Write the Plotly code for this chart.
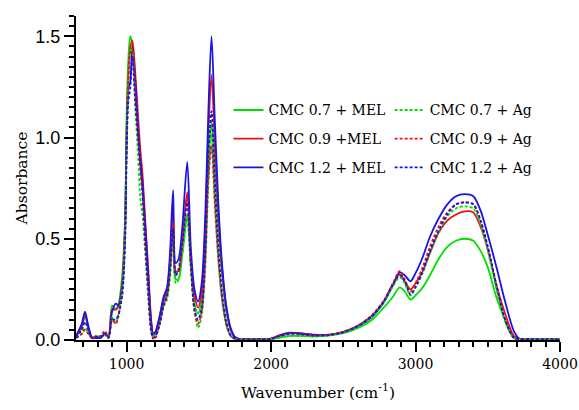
import plotly.graph_objects as go

# Wavenumber grid (cm-1)
wavenumber = [650, 690, 712, 735, 760, 790, 820, 850, 875, 900, 925, 945, 970, 990, 1000, 1012, 1025, 1040,
              1060, 1080, 1095, 1110, 1130, 1150, 1170, 1185, 1200, 1230, 1255, 1280, 1300, 1322, 1340, 1360,
              1385, 1420, 1445, 1470, 1495, 1520, 1545, 1565, 1588, 1610, 1635, 1660, 1690, 1720, 1750, 1780,
              1820, 1900, 2000, 2060, 2130, 2200, 2300, 2400, 2500, 2600, 2700, 2780, 2840, 2890, 2925, 2965,
              3000, 3050, 3100, 3160, 3220, 3280, 3340, 3400, 3450, 3500, 3560, 3620, 3680, 3720, 3800, 3900, 4000]

cmc07_mel = [.02, .06, .12, .06, .01, .01, .01, .035, .015, .17, .15, .18, .32, .62, 1.10, 1.38, 1.50, 1.46,
             1.25, 1.03, .88, .78, .55, .30, .08, .02, .03, .10, .18, .22, .33, .54, .30, .30,
             .42, .62, .36, .18, .13, .20, .45, .85, 1.08, .85, .55, .33, .14, .05, .012, .004,
             .003, .003, .005, .012, .02, .02, .018, .022, .034, .058, .10, .16, .21, .26, .24, .20,
             .22, .26, .32, .40, .46, .49, .50, .49, .44, .36, .21, .10, .015, .005, .004, .003, .003]
cmc09_mel = [.02, .07, .125, .06, .01, .01, .01, .03, .015, .15, .15, .17, .28, .58, 1.02, 1.30, 1.44, 1.48,
             1.32, 1.10, .94, .82, .58, .35, .10, .03, .04, .12, .20, .24, .38, .64, .34, .34,
             .48, .73, .40, .22, .16, .24, .55, 1.00, 1.31, .98, .62, .36, .16, .055, .014, .004,
             .003, .003, .007, .024, .036, .034, .026, .026, .04, .07, .12, .19, .27, .325, .29, .25,
             .28, .34, .43, .53, .59, .62, .635, .63, .56, .45, .27, .13, .02, .005, .004, .003, .003]
cmc12_mel = [.02, .08, .14, .07, .015, .01, .01, .03, .015, .14, .18, .17, .27, .55, .98, 1.24, 1.27, 1.45,
             1.28, 1.04, .88, .77, .55, .32, .09, .03, .04, .12, .21, .26, .42, .74, .38, .40,
             .55, .88, .45, .25, .19, .28, .62, 1.10, 1.50, 1.10, .68, .38, .17, .06, .015, .005,
             .003, .003, .007, .022, .035, .032, .025, .025, .039, .068, .115, .185, .265, .335, .32, .29,
             .33, .41, .51, .60, .67, .71, .72, .71, .64, .52, .36, .19, .045, .006, .004, .003, .003]
cmc07_ag = [.01, .03, .06, .035, .01, .02, .015, .025, .01, .11, .08, .13, .25, .55, .98, 1.30, 1.44, 1.42,
            1.15, .90, .70, .62, .42, .20, .04, .01, .02, .08, .16, .20, .30, .50, .28, .30,
            .42, .60, .34, .14, .06, .12, .35, .75, 1.02, .70, .40, .20, .07, .02, .006, .003,
            .003, .003, .005, .012, .02, .02, .018, .022, .036, .065, .115, .185, .26, .31, .28, .22,
            .26, .33, .43, .53, .61, .65, .66, .65, .57, .44, .25, .09, .01, .005, .004, .003, .003]
cmc09_ag = [.01, .03, .05, .03, .01, .02, .02, .045, .015, .10, .08, .12, .24, .52, .95, 1.27, 1.42, 1.44,
            1.22, 1.00, .84, .72, .48, .25, .05, .005, .01, .08, .17, .22, .34, .58, .32, .34,
            .47, .70, .38, .15, .08, .14, .40, .78, .96, .68, .40, .21, .08, .02, .006, .003,
            .003, .003, .006, .02, .032, .03, .023, .025, .04, .07, .125, .195, .275, .34, .30, .24,
            .28, .36, .46, .56, .63, .67, .68, .67, .59, .46, .27, .10, .01, .005, .004, .003, .003]
cmc12_ag = [.01, .05, .09, .05, .01, .015, .015, .03, .01, .10, .10, .13, .22, .48, .90, 1.18, 1.24, 1.40,
            1.18, 1.00, .88, .74, .48, .25, .05, .01, .02, .08, .17, .22, .34, .55, .32, .35,
            .47, .68, .38, .15, .10, .16, .45, .90, 1.13, .80, .46, .24, .09, .025, .007, .003,
            .003, .003, .006, .02, .03, .029, .022, .024, .038, .068, .12, .19, .27, .32, .29, .225,
            .26, .34, .44, .54, .62, .67, .68, .67, .59, .46, .27, .10, .012, .005, .004, .003, .003]

series = [
    ("CMC 0.7 + MEL", cmc07_mel, "#00E000", "solid", "legend"),
    ("CMC 0.9 +MEL", cmc09_mel, "#EE1111", "solid", "legend"),
    ("CMC 1.2 + MEL", cmc12_mel, "#1515E8", "solid", "legend"),
    ("CMC 0.7 + Ag", cmc07_ag, "#00E000", "3px,2px", "legend2"),
    ("CMC 0.9 + Ag", cmc09_ag, "#EE1111", "3px,2px", "legend2"),
    ("CMC 1.2 + Ag", cmc12_ag, "#1515E8", "3px,2px", "legend2"),
]

fig = go.Figure()
for name, vals, color, dash, leg in series:
    fig.add_trace(go.Scatter(
        x=wavenumber, y=vals, mode="lines", name=name, legend=leg, legendgroup=name,
        line=dict(color=color, width=1.8, dash=dash, shape="spline", smoothing=0.8),
    ))

serif = "DejaVu Serif"
legend_font = dict(family=serif, size=14, color="black")
fig.update_layout(
    width=579, height=410,
    margin=dict(l=76, r=19, t=16, b=69.5),
    paper_bgcolor="white", plot_bgcolor="white",
    showlegend=True,
    legend=dict(x=0.315, y=0.758, xanchor="left", yanchor="top", bgcolor="rgba(0,0,0,0)",
                font=legend_font, tracegroupgap=7.5, itemwidth=30),
    legend2=dict(x=0.648, y=0.758, xanchor="left", yanchor="top", bgcolor="rgba(0,0,0,0)",
                 font=legend_font, tracegroupgap=7.5, itemwidth=30),
    xaxis=dict(
        range=[650, 4000], showgrid=False, zeroline=False, automargin=False,
        showline=True, linecolor="black", linewidth=2,
        ticks="outside", ticklen=10, tickwidth=2, tickcolor="black",
        tick0=0, dtick=1000, ticklabeloverflow="allow",
        tickfont=dict(family=serif, size=14, color="black"),
        minor=dict(ticks="outside", ticklen=5, tickwidth=2, tickcolor="black", dtick=100, tick0=0, showgrid=False),
        title=dict(text="Wavenumber (cm<sup>-1</sup>)", font=dict(family=serif, size=15.5, color="black"), standoff=16),
    ),
    yaxis=dict(
        range=[0, 1.6], showgrid=False, zeroline=False, automargin=False,
        showline=True, linecolor="black", linewidth=2,
        ticks="outside", ticklen=10, tickwidth=2, tickcolor="black",
        tick0=0, dtick=0.5, tickformat=".1f",
        tickfont=dict(family="Liberation Sans", size=18, color="black"),
        minor=dict(ticks="outside", ticklen=5, tickwidth=2, tickcolor="black", dtick=0.05, tick0=0, showgrid=False),
        title=dict(text="Absorbance", font=dict(family=serif, size=15.5, color="black"), standoff=4),
    ),
)

fig.write_html("out.html")
